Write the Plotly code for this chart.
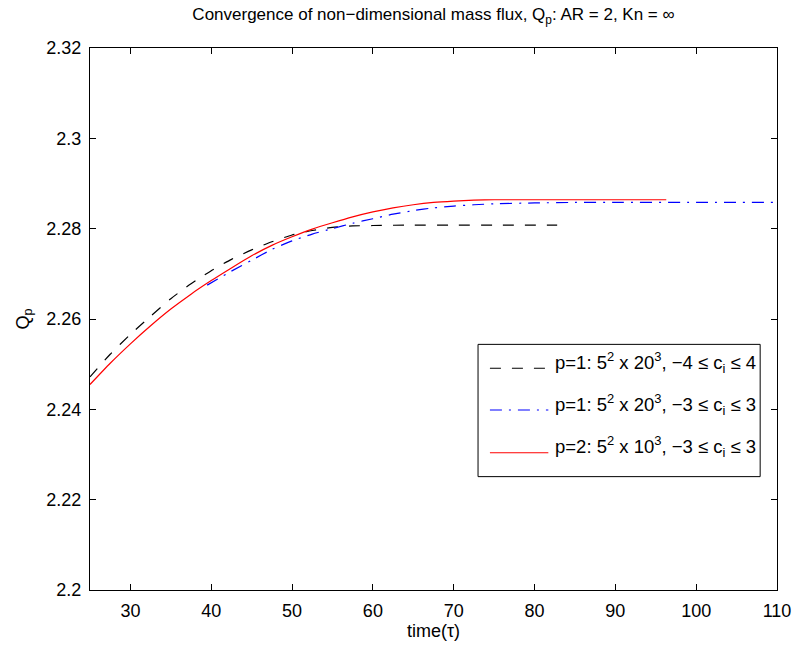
import plotly.graph_objects as go

# ---- data ----
t_black = [25, 27.5, 30, 32.5, 35, 37.5, 40, 42.5, 45, 47.5, 50, 52.5, 55, 57.5, 60, 65, 70, 75, 82.8]
q_black = [2.2472, 2.2522, 2.2566, 2.2606, 2.2645, 2.2678, 2.2707, 2.2732, 2.2753, 2.2771,
           2.2786, 2.2796, 2.2803, 2.2806, 2.2807, 2.2808, 2.2808, 2.2808, 2.2808]

t_blue = [39.5, 42.5, 45, 47.5, 50, 52.5, 55, 57.5, 60, 62.5, 65, 67.5, 70, 72.5, 75, 80, 85, 90, 100, 110]
q_blue = [2.2675, 2.2706, 2.2730, 2.2754, 2.2773, 2.2788, 2.2800, 2.2812, 2.2822, 2.2832,
          2.2840, 2.2846, 2.2850, 2.2853, 2.2855, 2.2857, 2.2858, 2.2858, 2.2858, 2.2858]

t_red = [25, 27.5, 30, 32.5, 35, 37.5, 40, 42.5, 45, 47.5, 50, 52.5, 55, 57.5, 60, 62.5, 65,
         67.5, 70, 72.5, 75, 80, 85, 90, 96.3]
q_red = [2.2455, 2.2502, 2.2545, 2.2585, 2.2622, 2.2655, 2.2685, 2.2713, 2.2740, 2.2763,
         2.2782, 2.2799, 2.2813, 2.2826, 2.2837, 2.2846, 2.2853, 2.2858, 2.2861, 2.2863,
         2.2864, 2.2864, 2.2864, 2.2864, 2.2864]

series_names = ["p=1: 5<sup>2</sup> x 20<sup>3</sup>, \u22124 \u2264 c<sub>i</sub> \u2264 4",
                "p=1: 5<sup>2</sup> x 20<sup>3</sup>, \u22123 \u2264 c<sub>i</sub> \u2264 3",
                "p=2: 5<sup>2</sup> x 10<sup>3</sup>, \u22123 \u2264 c<sub>i</sub> \u2264 3"]
series_colors = ["#000000", "#0000ff", "#ff0000"]
series_dash = ["11px,11px", "12px,7px,2px,7px", "solid"]

x_ticks = [30, 40, 50, 60, 70, 80, 90, 100, 110]
y_ticks = [2.2, 2.22, 2.24, 2.26, 2.28, 2.3, 2.32]
y_ticktext = ["2.2", "2.22", "2.24", "2.26", "2.28", "2.3", "2.32"]

FONT = "Liberation Sans, Arial, Helvetica, sans-serif"
FS = 18

fig = go.Figure()
for tx, qy, c, d in zip([t_black, t_blue, t_red], [q_black, q_blue, q_red], series_colors, series_dash):
    fig.add_trace(go.Scatter(x=tx, y=qy, mode="lines", showlegend=False,
                             line=dict(color=c, width=1.2, dash=d, shape="spline", smoothing=0.6)))

# ---- manual legend box (MATLAB style) ----
L, R, T, B = 90, 784, 48, 593  # plot area in px
def px(x):
    return (x - L) / (R - L)
def py(y):
    return (B - y) / (B - T)

fig.add_shape(type="rect", xref="paper", yref="paper",
              x0=px(482), x1=px(767), y0=py(479), y1=py(346),
              line=dict(color="black", width=1), fillcolor="white", layer="above")
for i, (name, c, d) in enumerate(zip(series_names, series_colors, series_dash)):
    ly = [370, 412, 455][i]
    fig.add_shape(type="line", xref="paper", yref="paper",
                  x0=px(494), x1=px(553), y0=py(ly), y1=py(ly),
                  line=dict(color=c, width=1.2, dash=d), layer="above")
    fig.add_annotation(xref="paper", yref="paper", x=px(558), y=py(ly - 6),
                       xanchor="left", yanchor="middle", showarrow=False,
                       text=name, font=dict(family=FONT, size=18.5, color="black"))

fig.update_layout(
    width=803, height=647,
    margin=dict(l=L, r=803 - R, t=T, b=647 - B),
    paper_bgcolor="white", plot_bgcolor="white",
    font=dict(family=FONT, size=FS, color="black"),
    title=dict(text="Convergence of non\u2212dimensional mass flux, Q<sub>p</sub>: AR = 2, Kn = \u221e",
               x=0.5, xref="paper", y=1 - 14 / 647, yref="container", yanchor="middle",
               font=dict(family=FONT, size=17, color="black")),
    xaxis=dict(range=[25, 110], tickvals=x_ticks, ticks="inside", ticklen=6, tickcolor="black",
               showline=True, linecolor="black", linewidth=1, mirror="allticks",
               showgrid=False, zeroline=False, ticklabelstandoff=4,
               title=dict(text="time(\u03c4)", standoff=2, font=dict(family=FONT, size=FS))),
    yaxis=dict(range=[2.2, 2.32], tickvals=y_ticks, ticktext=y_ticktext, ticks="inside", ticklen=6,
               tickcolor="black", showline=True, linecolor="black", linewidth=1, mirror="allticks",
               showgrid=False, zeroline=False, ticklabelstandoff=4,
               title=dict(text="Q<sub>p</sub>", standoff=12, font=dict(family=FONT, size=FS))),
)

fig.write_html("out.html")
